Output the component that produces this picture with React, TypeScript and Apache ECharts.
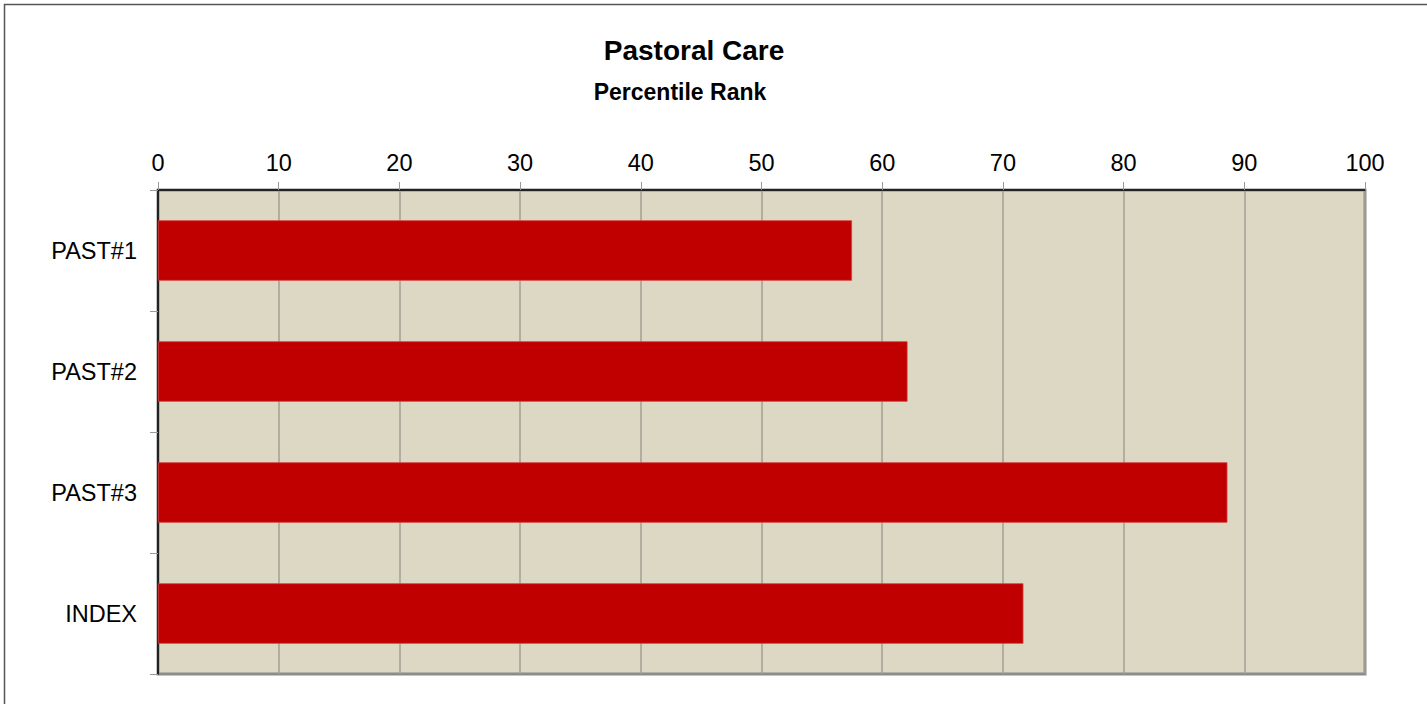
import React, { useEffect, useRef } from "react";
import * as echarts from "echarts";

const categories = ["PAST#1", "PAST#2", "PAST#3", "INDEX"];
const values = [57.5, 62.1, 88.6, 71.7];
const titleText = "Pastoral Care";
const subtitleText = "Percentile Rank";

const FONT = "'Liberation Sans', Arial, sans-serif";

export default function App() {
  const ref = useRef<HTMLDivElement>(null);
  useEffect(() => {
    if (!ref.current) return;
    const chart = echarts.init(ref.current, null, { renderer: "svg" });
    chart.setOption({
      animation: false,
      backgroundColor: "#ffffff",
      graphic: [
        {
          type: "rect",
          shape: { x: 4.5, y: 4.5, width: 1440, height: 720 },
          style: { fill: "none", stroke: "#555", lineWidth: 1.5 },
          z: -10,
        },
        {
          type: "text",
          x: 694,
          y: 50,
          style: {
            text: titleText,
            font: `bold 28px ${FONT}`,
            fill: "#000",
            align: "center",
            verticalAlign: "middle",
          },
        },
        {
          type: "text",
          x: 680,
          y: 92,
          style: {
            text: subtitleText,
            font: `bold 23px ${FONT}`,
            fill: "#000",
            align: "center",
            verticalAlign: "middle",
          },
        },
      ],
      grid: {
        left: 158,
        top: 190,
        width: 1207,
        height: 484,
        show: true,
        backgroundColor: "#ddd8c3",
        borderColor: "#8c8c8c",
        borderWidth: 3,
        containLabel: false,
      },
      xAxis: {
        type: "value",
        position: "top",
        min: 0,
        max: 100,
        interval: 10,
        axisLine: { show: true, lineStyle: { color: "#000", width: 1.5 } },
        axisTick: { show: true, length: 8, lineStyle: { color: "#999" } },
        axisLabel: {
          color: "#000",
          fontSize: 23.5,
          fontFamily: FONT,
          margin: 15,
        },
        splitLine: { show: true, lineStyle: { color: "#a39f92", width: 1.5 } },
      },
      yAxis: {
        type: "category",
        data: categories,
        inverse: true,
        axisLine: { show: true, lineStyle: { color: "#222", width: 2 } },
        axisTick: { show: true, length: 8, lineStyle: { color: "#999" } },
        axisLabel: {
          color: "#000",
          fontSize: 23.5,
          fontFamily: FONT,
          margin: 21,
        },
        splitLine: { show: false },
      },
      series: [
        {
          type: "bar",
          data: values,
          barCategoryGap: "50%",
          itemStyle: { color: "#c00000", borderColor: "#d64040", borderWidth: 0.8 },
        },
      ],
    });
    return () => chart.dispose();
  }, []);
  return (
    <div
      ref={ref}
      style={{ position: "fixed", left: 0, top: 0, width: 1427, height: 704 }}
    />
  );
}
